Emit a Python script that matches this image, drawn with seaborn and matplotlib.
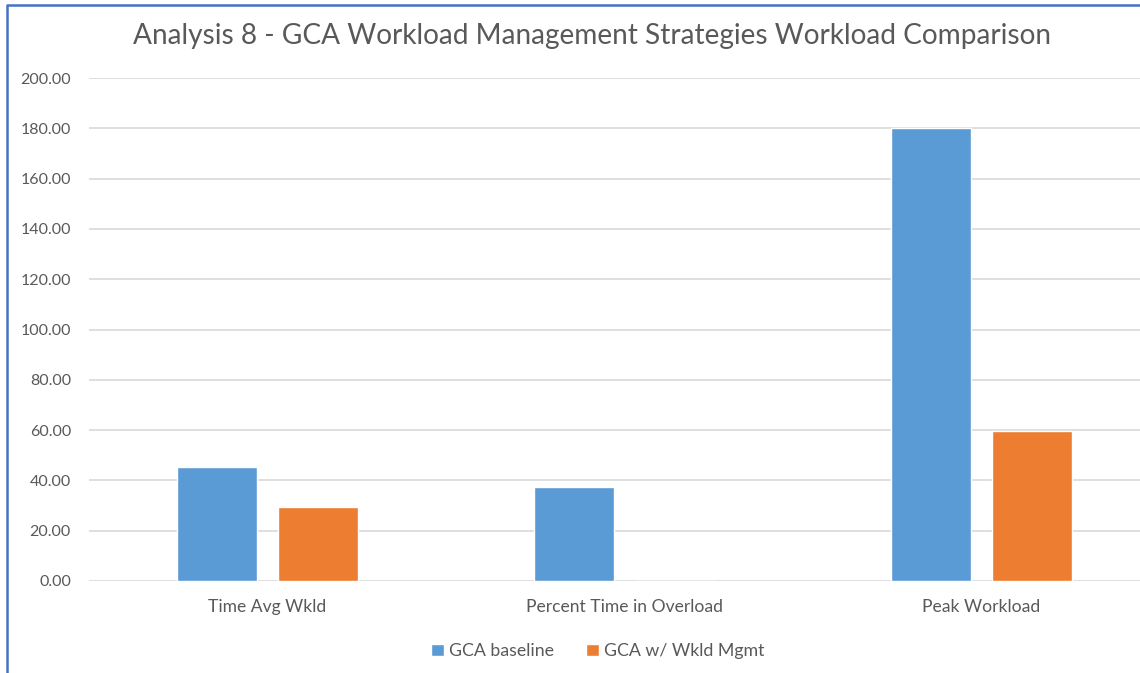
import matplotlib
matplotlib.use("Agg")
import matplotlib.pyplot as plt
from matplotlib.lines import Line2D
from matplotlib.patches import Patch
from matplotlib.ticker import FormatStrFormatter
import pandas as pd
import seaborn as sns

# data
metrics = ["Time Avg Wkld", "Percent Time in Overload", "Peak Workload"]
series = ["GCA baseline", "GCA w/ Wkld Mgmt"]
baseline = [45.5, 37.4, 180.0]
wkld_mgmt = [29.5, 0.0, 59.6]
colors = ["#5B9BD5", "#ED7D31"]
title = "Analysis 8 - GCA Workload Management Strategies Workload Comparison"

df = pd.DataFrame({
    "metric": metrics * 2,
    "series": [series[0]] * 3 + [series[1]] * 3,
    "value": baseline + wkld_mgmt,
})

sns.set_theme(style="white")
plt.rcParams["font.family"] = ["Lato", "DejaVu Sans"]
text_color = "#595959"

W, H = 1140, 673
fig = plt.figure(figsize=(W / 100, H / 100), dpi=100)
fig.patch.set_facecolor("white")

# plot area in pixels: left 89, zero line at 581, 200 line at 78
ax = fig.add_axes([89 / W, (H - 581) / H, (W - 89) / W, (581 - 78) / H])

sns.barplot(data=df, x="metric", y="value", hue="series", palette=colors,
            width=0.566, gap=0.21, ax=ax, legend=False, saturation=1)

ax.set_ylim(0, 200)
ax.set_xlim(-0.5, -0.5 + (W - 89) / 357)
ax.set_yticks(range(0, 201, 20))
ax.yaxis.set_major_formatter(FormatStrFormatter("%.2f"))
ax.grid(axis="y", color="#d9d9d9", linewidth=1.2)
ax.set_axisbelow(True)
for s in ax.spines.values():
    s.set_visible(False)
ax.set_xlabel("")
ax.set_ylabel("")
ax.tick_params(axis="y", length=0, pad=13, labelsize=11.5, labelcolor=text_color)
ax.tick_params(axis="x", length=0, pad=13, labelsize=12.6, labelcolor=text_color)

fig.text(592 / W, 1 - 36 / H, title, ha="center", va="center",
         fontsize=20.2, color=text_color)

handles = [Patch(facecolor=c, label=l) for c, l in zip(colors, series)]
fig.legend(handles=handles, loc="center", bbox_to_anchor=(598 / W, 1 - 651 / H),
           ncol=2, frameon=False, fontsize=12.8, labelcolor=text_color,
           handlelength=0.7, handleheight=0.7, handletextpad=0.3, columnspacing=1.8)

# chart border (cropped on right and bottom)
border = "#4472C4"
fig.add_artist(Line2D([7 / W, 7 / W, 1.0], [0.0, 1 - 5 / H, 1 - 5 / H],
                      transform=fig.transFigure, color=border, linewidth=1.8))

fig.savefig("out.png", dpi=100, facecolor="white")
